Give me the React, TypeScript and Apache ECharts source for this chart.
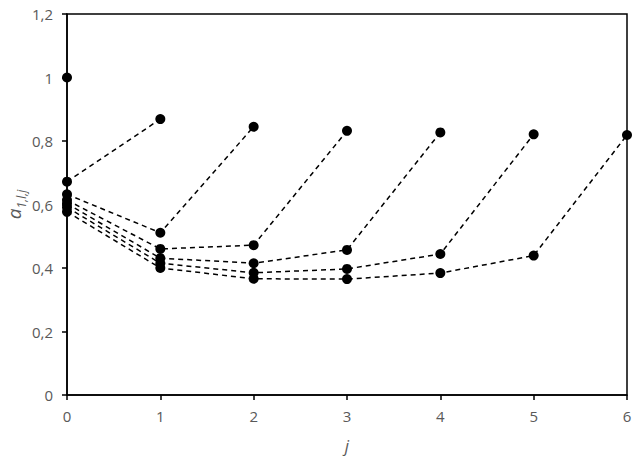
import React, { useEffect, useRef } from "react";
import * as echarts from "echarts";

const jValues = [0, 1, 2, 3, 4, 5, 6];
const yTicks = [0, 0.2, 0.4, 0.6, 0.8, 1, 1.2];
const series1 = [1.0];
const series2 = [0.672, 0.869];
const series3 = [0.632, 0.511, 0.845];
const series4 = [0.614, 0.46, 0.472, 0.832];
const series5 = [0.603, 0.431, 0.415, 0.457, 0.827];
const series6 = [0.591, 0.415, 0.385, 0.397, 0.444, 0.821];
const series7 = [0.577, 0.4, 0.366, 0.365, 0.384, 0.439, 0.819];
const allSeries = [series1, series2, series3, series4, series5, series6, series7];

const fmt = (v: number) => String(Math.round(v * 10) / 10).replace(".", ",");

export default function App() {
  const ref = useRef<HTMLDivElement>(null);
  useEffect(() => {
    if (!ref.current) return;
    const chart = echarts.init(ref.current, null, { renderer: "svg" });
    const labelColor = "#595959";
    const font = "'Open Sans', 'Liberation Sans', sans-serif";
    chart.setOption({
      animation: false,
      grid: {
        left: 67,
        right: 9,
        top: 14,
        bottom: 71,
        containLabel: false,
        outerBoundsMode: "none",
        show: true,
        borderColor: "#000",
        borderWidth: 1.5,
        backgroundColor: "transparent",
      },
      xAxis: {
        type: "value",
        min: 0,
        max: 6,
        interval: 1,
        name: "j",
        nameLocation: "middle",
        nameGap: 42,
        nameTextStyle: { fontStyle: "italic", fontSize: 17, color: labelColor, fontFamily: font },
        axisLine: { show: true, onZero: false, lineStyle: { color: "#000", width: 1.5 } },
        axisTick: { show: true, length: 5, lineStyle: { color: "#000", width: 1.5 } },
        axisLabel: { color: labelColor, fontSize: 15, fontFamily: font, margin: 13 },
        splitLine: { show: false },
      },
      yAxis: {
        type: "value",
        min: 0,
        max: 1.2,
        interval: 0.2,
        name: "{a|a}{s|1,l,j}",
        nameLocation: "middle",
        nameGap: 44,
        nameMoveOverlap: false,
        nameRotate: 90,
        nameTextStyle: {
          color: labelColor,
          fontFamily: font,
          rich: {
            a: { fontStyle: "italic", fontSize: 19, color: labelColor, fontFamily: font, verticalAlign: "bottom", lineHeight: 18 },
            s: { fontStyle: "italic", fontSize: 12, color: labelColor, fontFamily: font, verticalAlign: "bottom", lineHeight: 18, padding: [0, 0, -4, 0] },
          },
        },
        axisLine: { show: true, lineStyle: { color: "#000", width: 1.5 } },
        axisTick: { show: true, length: 5, lineStyle: { color: "#000", width: 1.5 } },
        axisLabel: {
          color: labelColor,
          fontSize: 15,
          fontFamily: font,
          margin: 14,
          formatter: (v: number) => (yTicks.some((t) => Math.abs(t - v) < 1e-9) ? fmt(v) : ""),
        },
        splitLine: { show: false },
      },
      series: allSeries.map((s, k) => ({
        name: "l" + (k + 1),
        type: "line",
        data: s.map((v, i) => [jValues[i], v]),
        symbol: "circle",
        symbolSize: 10,
        itemStyle: { color: "#000" },
        lineStyle: { color: "#000", width: 1.5, type: [5, 4] },
        z: 3,
      })),
    });
    return () => chart.dispose();
  }, []);
  return <div ref={ref} style={{ width: 636, height: 466, position: "absolute", left: 0, top: 0 }} />;
}
